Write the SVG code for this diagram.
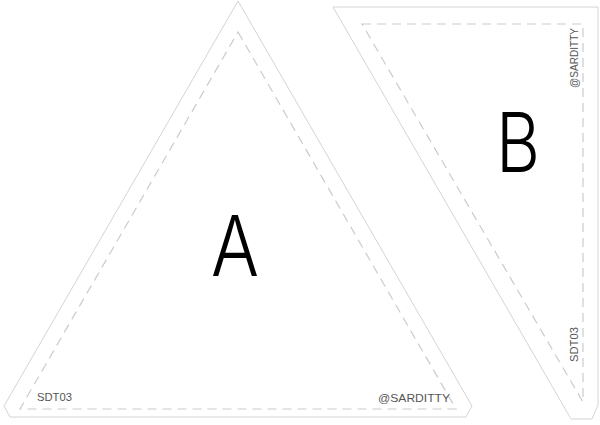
<svg xmlns="http://www.w3.org/2000/svg" width="600" height="425" viewBox="0 0 600 425">
<style>
.outline{fill:#fff;stroke:#d4d4d4;stroke-width:1}
.dash{fill:none;stroke:#cbcbcb;stroke-width:1.2;stroke-dasharray:9 6}
.small{font-family:"Liberation Sans",Arial,sans-serif;font-size:11px;fill:#555}
.big{font-family:Inter,"Liberation Sans",sans-serif;font-weight:300;fill:#000}
</style>
<rect width="600" height="425" fill="#fff"/>
<g id="flagA">
<polygon class="outline" points="238,1 472,406 466,417 10,417 4,406"/>
<polygon class="dash" points="238,32 456,409 20,409"/>
<text class="small" x="37" y="401" textLength="35" lengthAdjust="spacingAndGlyphs">SDT03</text>
<text class="small" x="450" y="402" text-anchor="end" textLength="72" lengthAdjust="spacingAndGlyphs">@SARDITTY</text>
<text class="big" x="235" y="276" font-size="84" text-anchor="middle" textLength="48" lengthAdjust="spacingAndGlyphs">A</text>
</g>
<g id="flagB">
<polygon class="outline" points="333,7 598,7 598,405 592,419 571,419"/>
<polygon class="dash" points="362,24 583,24 583,402"/>
<text class="small" transform="translate(578,88) rotate(-90)" textLength="60" lengthAdjust="spacingAndGlyphs">@SARDITTY</text>
<text class="small" transform="translate(578,362) rotate(-90)" textLength="35" lengthAdjust="spacingAndGlyphs">SDT03</text>
<text class="big" x="496" y="172" font-size="82" textLength="44" lengthAdjust="spacingAndGlyphs">B</text>
</g>
<g id="connectors"/>
</svg>
